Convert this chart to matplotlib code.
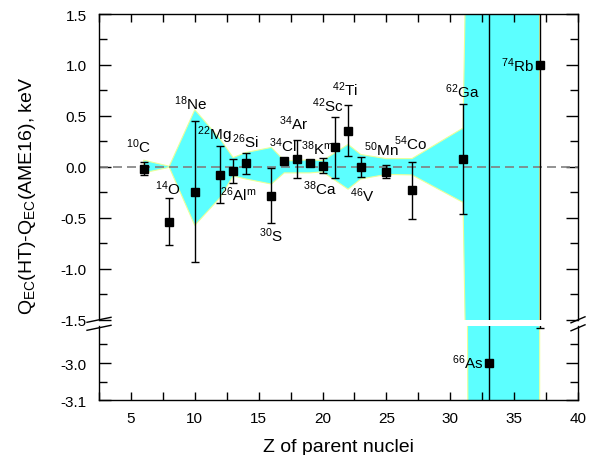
import matplotlib
matplotlib.use('Agg')
import matplotlib.pyplot as plt
from matplotlib.lines import Line2D
from matplotlib.ticker import MultipleLocator, FormatStrFormatter

plt.rcParams['font.family'] = ['Liberation Sans', 'DejaVu Sans']
plt.rcParams['mathtext.fontset'] = 'custom'
plt.rcParams['mathtext.rm'] = 'Liberation Sans'
plt.rcParams['mathtext.it'] = 'Liberation Sans:italic'
plt.rcParams['mathtext.bf'] = 'Liberation Sans:bold'
plt.rcParams['axes.unicode_minus'] = False

# parent nuclei
mass = [10, 14, 18, 22, 26, 26, 30, 34, 34, 38, 38, 42, 42, 46, 50, 54, 62, 66, 74]
symbol = ['C', 'O', 'Ne', 'Mg', 'Al', 'Si', 'S', 'Cl', 'Ar', 'K', 'Ca', 'Sc', 'Ti',
          'V', 'Mn', 'Co', 'Ga', 'As', 'Rb']
isomer = [0, 0, 0, 0, 1, 0, 0, 0, 0, 1, 0, 0, 0, 0, 0, 0, 0, 0, 0]
Z = [6, 8, 10, 12, 13, 14, 16, 17, 18, 19, 20, 21, 22, 23, 25, 27, 31, 33, 37]

# Q_EC(HT) - Q_EC(AME16), keV
dQ = [-0.02, -0.54, -0.245, -0.08, -0.04, 0.033, -0.285, 0.053, 0.076, 0.033, 0.01,
      0.19, 0.354, 0.0, -0.049, -0.229, 0.073, -3.0, 1.0]
dQ_err = [0.065, 0.23, 0.69, 0.28, 0.115, 0.1, 0.27, 0.015, 0.185, 0.02, 0.072,
          0.3, 0.25, 0.1, 0.065, 0.28, 0.54, 5.0, 3.905]

# AME16 uncertainty band
band_z = [6, 8, 10, 12, 13, 14, 16, 17, 18, 19, 20, 21, 22, 23, 25, 27, 31, 33, 37]
band_hi = [0.065, 0.005, 0.56, 0.27, 0.09, 0.14, 0.19, 0.06, 0.06, 0.07, 0.06,
           0.14, 0.22, 0.12, 0.08, 0.08, 0.38, 15.0, 15.0]
band_lo = [-0.06, -0.005, -0.575, -0.3, -0.09, -0.12, -0.17, -0.06, -0.06, -0.06, -0.05,
           -0.135, -0.22, -0.12, -0.075, -0.08, -0.35, -15.0, -15.0]

# label offsets from the point, pixels
lab_dx = [-5, -1.5, -4, -6, 5, 0, -1, -1, -3, 8, -3, -7, -3, 1, -5.5, -1, -1, -21, -22]
lab_dy = [23, 34, 89, 41, -23, 23, -39, 17, 36, 16, -22, 43, 42, -28, 23, 47, 69, 1, 0]

fig = plt.figure(figsize=(5.95, 4.56), dpi=100)
ax1 = fig.add_axes([0.1664, 0.2971, 0.8050, 0.6700])
ax2 = fig.add_axes([0.1664, 0.1206, 0.8050, 0.1623])

for ax in (ax1, ax2):
    ax.fill_between(band_z, band_lo, band_hi, facecolor='#5cffff', edgecolor='#eaff99',
                    lw=0.8, zorder=1)
    ax.errorbar(Z, dQ, yerr=dQ_err, fmt='s', color='k', ms=6, capsize=2.8,
                elinewidth=1, capthick=1, zorder=3)
    ax.set_xlim(2.5, 40)
    for s in ax.spines.values():
        s.set_linewidth(1.0)

ax1.axhline(0, color='#808080', ls=(0, (5.4, 3)), lw=1.2, zorder=2)
ax1.set_ylim(-1.5, 1.5)
ax2.set_ylim(-3.1, -2.9)

ax1.spines['bottom'].set_visible(False)
ax2.spines['top'].set_visible(False)

# upper panel ticks
ax1.xaxis.set_major_locator(MultipleLocator(2.5))
ax1.tick_params(axis='x', which='both', bottom=False, top=True, labelbottom=False,
                direction='in', length=5.5, width=1)
ax1.yaxis.set_major_locator(MultipleLocator(0.5))
ax1.yaxis.set_minor_locator(MultipleLocator(0.25))
ax1.yaxis.set_major_formatter(FormatStrFormatter('%.1f'))
ax1.tick_params(axis='y', which='both', left=True, right=True, direction='in', width=1,
                labelsize=11, pad=9)
ax1.tick_params(axis='y', which='major', length=8.5)
ax1.tick_params(axis='y', which='minor', length=5.5)

# lower panel ticks
ax2.set_xticks([5, 10, 15, 20, 25, 30, 35, 40])
ax2.xaxis.set_minor_locator(MultipleLocator(2.5))
ax2.tick_params(axis='x', which='both', bottom=True, top=False, direction='in',
                length=5.5, width=1, labelsize=11, pad=8)
ax2.set_yticks([-3.1, -3.0])
ax2.set_yticks([-3.05, -2.95], minor=True)
ax2.yaxis.set_major_formatter(FormatStrFormatter('%.1f'))
ax2.tick_params(axis='y', which='both', left=True, right=True, direction='in', width=1,
                labelsize=11, pad=9)
ax2.tick_params(axis='y', which='major', length=8.5)
ax2.tick_params(axis='y', which='minor', length=5.5)

# nucleus labels
for i in range(len(Z)):
    txt = r'$^{\mathregular{%d}}$%s' % (mass[i], symbol[i])
    if isomer[i]:
        txt += r'$^{\mathregular{m}}$'
    ax = ax2 if dQ[i] < -1.5 else ax1
    ax.annotate(txt, xy=(Z[i], dQ[i]), xytext=(lab_dx[i], lab_dy[i]),
                textcoords='offset pixels', ha='center', va='center', fontsize=11,
                zorder=4)

# axis break marks
W, H = 595.0, 456.0
for x0, half_w, rise in ((99, 12, 2.5), (578, 7, 3)):
    for yc in (320.8, 328.8):
        fig.add_artist(Line2D([(x0 - half_w) / W, (x0 + half_w) / W],
                              [1 - (yc + rise) / H, 1 - (yc - rise) / H],
                              color='k', lw=1))

fig.text(338.5 / W, 1 - 452 / H, 'Z of parent nuclei', ha='center', va='baseline',
         fontsize=14)
fig.text(31.7 / W, 1 - 196 / H, r'Q$_{\mathregular{EC}}$(HT)-Q$_{\mathregular{EC}}$(AME16), keV',
         rotation=90, rotation_mode='anchor', ha='center', va='baseline', fontsize=14)

fig.savefig('out.png', dpi=100)
